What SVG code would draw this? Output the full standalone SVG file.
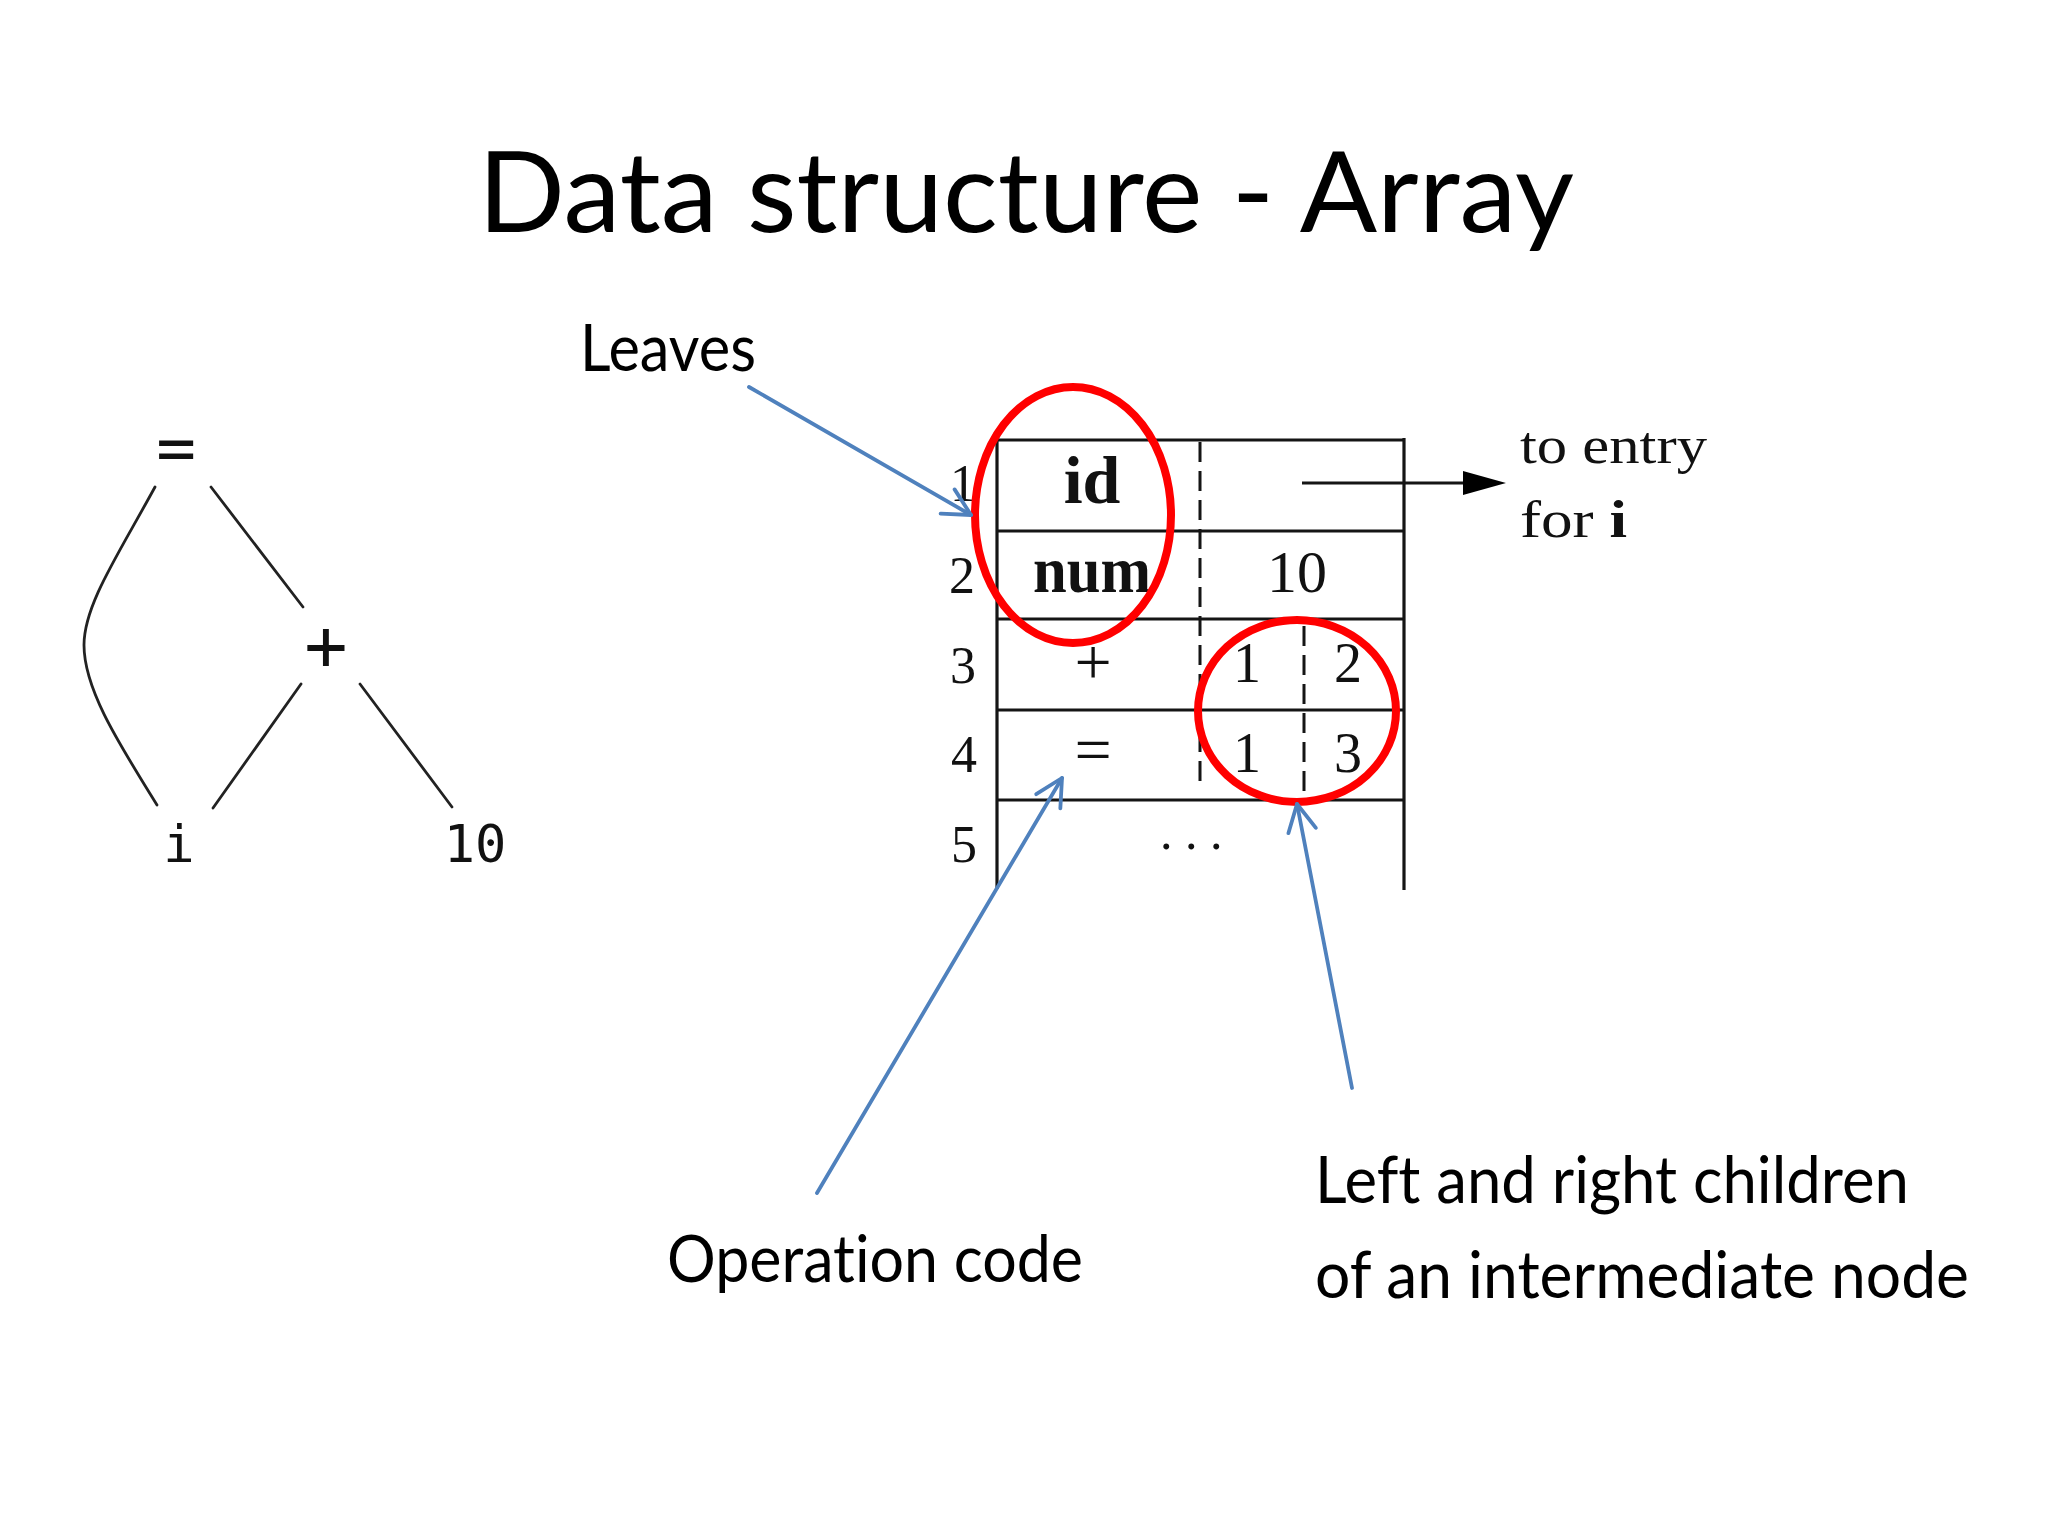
<svg xmlns="http://www.w3.org/2000/svg" width="2048" height="1536" viewBox="0 0 2048 1536">
<defs>
<style>
.sans{font-family:Lato,"Liberation Sans",sans-serif;fill:#000;font-variant-ligatures:none;font-feature-settings:"liga" 0,"clig" 0}
.mono{font-family:"DejaVu Sans Mono","Liberation Mono",monospace;fill:#111}
.serif{font-family:"Liberation Serif","DejaVu Serif",serif;fill:#111}
.edge{fill:none;stroke:#222;stroke-width:2.8;stroke-linecap:round}
.grid{fill:none;stroke:#151515;stroke-width:3.2}
.dash{fill:none;stroke:#151515;stroke-width:3;stroke-dasharray:20 9}
.ring{fill:none;stroke:#FF0000;stroke-width:8}
.blue{fill:none;stroke:#4F81BD;stroke-width:3.8;stroke-linecap:round}
</style>
<marker id="open" markerUnits="userSpaceOnUse" viewBox="-32 -20 40 40" markerWidth="40" markerHeight="40" refX="0" refY="0" orient="auto">
<path d="M-27,-14 L0,0 L-27,14" fill="none" stroke="#4F81BD" stroke-width="3.8" stroke-linecap="round" stroke-linejoin="round"/>
</marker>
</defs>
<rect width="2048" height="1536" fill="#fff"/>

<g id="title">
<text class="sans" x="478" y="232" font-size="113" textLength="1096" lengthAdjust="spacingAndGlyphs">Data structure - Array</text>
</g>

<g id="tree-eq"><text class="mono" x="176" y="470" font-size="66" text-anchor="middle">=</text></g>
<g id="tree-plus"><text class="mono" x="326" y="670" font-size="72" text-anchor="middle">+</text></g>
<g id="tree-i"><text class="mono" x="179" y="862" font-size="52" text-anchor="middle">i</text></g>
<g id="tree-10"><text class="mono" x="475" y="862" font-size="52" text-anchor="middle">10</text></g>

<g id="table">
<line class="grid" x1="997" y1="440" x2="1404" y2="440"/>
<line class="grid" x1="997" y1="531" x2="1404" y2="531"/>
<line class="grid" x1="997" y1="619" x2="1404" y2="619"/>
<line class="grid" x1="997" y1="710" x2="1404" y2="710"/>
<line class="grid" x1="997" y1="800" x2="1404" y2="800"/>
<line class="grid" x1="997" y1="438" x2="997" y2="889"/>
<line class="grid" x1="1404" y1="438" x2="1404" y2="890"/>
<line class="dash" x1="1200" y1="442" x2="1200" y2="785"/>
<line class="dash" x1="1304" y1="626" x2="1304" y2="800"/>
<text class="serif" x="963" y="501" font-size="52" text-anchor="middle">1</text>
<text class="serif" x="962" y="593" font-size="52" text-anchor="middle">2</text>
<text class="serif" x="963" y="683" font-size="52" text-anchor="middle">3</text>
<text class="serif" x="964" y="772" font-size="52" text-anchor="middle">4</text>
<text class="serif" x="964" y="862" font-size="52" text-anchor="middle">5</text>
<text class="serif" x="1092" y="503" font-size="68" font-weight="bold" text-anchor="middle">id</text>
<text class="serif" x="1092" y="592" font-size="66" font-weight="bold" text-anchor="middle" textLength="118" lengthAdjust="spacingAndGlyphs">num</text>
<text class="serif" x="1297" y="592" font-size="60" text-anchor="middle">10</text>
<text class="serif" x="1093" y="684" font-size="66" text-anchor="middle">+</text>
<text class="serif" x="1247" y="682" font-size="56" text-anchor="middle">1</text>
<text class="serif" x="1348" y="682" font-size="56" text-anchor="middle">2</text>
<text class="serif" x="1093" y="772" font-size="66" text-anchor="middle">=</text>
<text class="serif" x="1247" y="772" font-size="56" text-anchor="middle">1</text>
<text class="serif" x="1348" y="772" font-size="56" text-anchor="middle">3</text>
<text class="serif" x="1160" y="849" font-size="50">. . .</text>
</g>

<g id="entry-label">
<text class="serif" x="1520" y="463" font-size="52" textLength="187" lengthAdjust="spacingAndGlyphs">to entry</text>
<text class="serif" x="1520" y="537" font-size="52" textLength="107" lengthAdjust="spacingAndGlyphs">for <tspan font-weight="bold">i</tspan></text>
</g>

<g id="highlights">
<ellipse class="ring" cx="1073" cy="515" rx="98" ry="128"/>
<ellipse class="ring" cx="1297" cy="711" rx="99" ry="91"/>
</g>

<g id="label-leaves"><text class="sans" x="580" y="371" font-size="66" textLength="176" lengthAdjust="spacingAndGlyphs">Leaves</text></g>
<g id="label-opcode"><text class="sans" x="667" y="1282" font-size="66" textLength="416" lengthAdjust="spacingAndGlyphs">Operation code</text></g>
<g id="label-children">
<text class="sans" x="1315" y="1203" font-size="66" textLength="594" lengthAdjust="spacingAndGlyphs">Left and right children</text>
<text class="sans" x="1315" y="1298" font-size="66" textLength="654" lengthAdjust="spacingAndGlyphs">of an intermediate node</text>
</g>

<g id="connectors">
<path class="edge" d="M155,487 C118,555 84,605 84,645 C84,690 120,745 157,805"/>
<line class="edge" x1="211" y1="487" x2="303" y2="607"/>
<line class="edge" x1="301" y1="684" x2="213" y2="808"/>
<line class="edge" x1="360" y1="684" x2="452" y2="807"/>
<line x1="1302" y1="483" x2="1470" y2="483" stroke="#151515" stroke-width="3.2"/>
<polygon points="1463,471 1506,483 1463,495" fill="#000"/>
<line class="blue" x1="749" y1="387" x2="971" y2="515" marker-end="url(#open)"/>
<line class="blue" x1="817" y1="1193" x2="1062" y2="778" marker-end="url(#open)"/>
<line class="blue" x1="1352" y1="1088" x2="1297" y2="804" marker-end="url(#open)"/>
</g>
</svg>
